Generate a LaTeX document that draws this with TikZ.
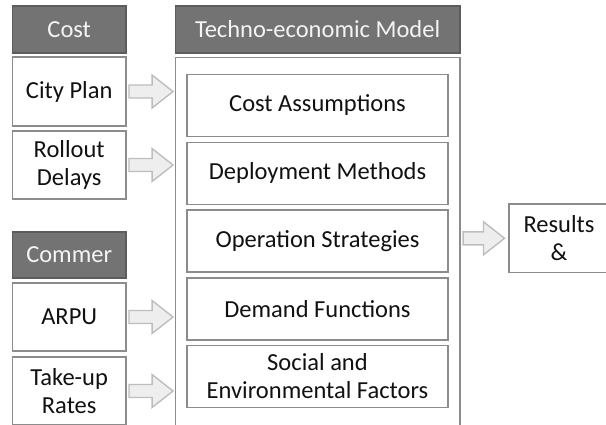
\documentclass[tikz,border=0pt]{standalone}
\usepackage{fontspec}
\setmainfont{Carlito}
\usetikzlibrary{calc}

\definecolor{boxline}{HTML}{8C8C8C}
\definecolor{headfill}{HTML}{737373}
\definecolor{headline}{HTML}{5C5C5C}
\definecolor{headtext}{HTML}{F4F4F4}
\definecolor{arrfill}{HTML}{EEEEEE}
\definecolor{arrline}{HTML}{BDBDBD}
\definecolor{ink}{HTML}{111111}

% hollow block arrow from point #1 to point #2 (same height)
\newcommand{\blockarrow}[2]{%
  \draw[blockarr] let \p1=(#1), \p2=(#2) in
    (\x1,{\y1+6.5bp}) -- ({\x2-21bp},{\y1+6.5bp}) -- ({\x2-21bp},{\y1+16.5bp})
    -- (\x2,\y1) -- ({\x2-21bp},{\y1-16.5bp}) -- ({\x2-21bp},{\y1-6.5bp})
    -- (\x1,{\y1-6.5bp}) -- cycle;}

\begin{document}
\begin{tikzpicture}[x=1bp,y=-1bp,
  every node/.style={inner sep=0pt,outer sep=0pt,align=center,
    font=\fontsize{24.5bp}{28bp}\selectfont},
  headbox/.style={draw=headline,fill=headfill,line width=1.6bp,text=headtext,
    minimum height=47bp},
  itembox/.style={draw=boxline,line width=1.6bp,fill=white,text=ink,
    minimum width=113.5bp,minimum height=68.5bp},
  modelitem/.style={draw=boxline,line width=1.6bp,fill=white,text=ink,
    minimum width=260.5bp,minimum height=62bp},
  blockarr/.style={draw=arrline,fill=arrfill,line width=1.4bp,line join=miter}]
  \useasboundingbox (0,0) rectangle (606,424);
  \begin{scope}
  \clip (0,0) rectangle (606,424);

  % cost inputs
  \node[headbox,minimum width=113.5bp] (costhead) at (69.2,29.2) {Cost};
  \node[itembox] (city) at (69.2,91.5) {City Plan};
  \node[itembox] (rollout) at (69.2,165) {Rollout\\Delays};

  % commercial inputs
  \node[headbox,minimum width=113.5bp,minimum height=45.5bp] (commhead) at (69.2,255) {Commer};
  \node[itembox] (arpu) at (69.2,317) {ARPU};
  \node[itembox] (takeup) at (69.2,391) {Take-up\\Rates};

  % techno-economic model
  \node[headbox,minimum width=284.5bp] (modelhead) at (317.6,29.2) {Techno-economic Model};
  \node[draw=boxline,line width=1.6bp,minimum width=284.5bp,minimum height=383bp] (model) at (317.8,248.8) {};
  \node[modelitem] (costass) at (317.5,105.3) {Cost Assumptions};
  \node[modelitem] (deploy) at (317.5,173.3) {Deployment Methods};
  \node[modelitem] (oper) at (317.5,240.8) {Operation Strategies};
  \node[modelitem] (demand) at (317.5,308.8) {Demand Functions};
  \node[modelitem] (social) at (317.5,376.5) {Social and\\Environmental Factors};

  % output
  \node[itembox,minimum width=100bp] (results) at (559,238.3) {Results\\\&};

  % flows
  \blockarrow{$(city.east)+(3,0)$}{$(model.west |- city.east)+(-2.5,0)$}
  \blockarrow{$(rollout.east)+(3,0)$}{$(model.west |- rollout.east)+(-2.5,0)$}
  \blockarrow{$(arpu.east)+(3,0)$}{$(model.west |- arpu.east)+(-2.5,0)$}
  \blockarrow{$(takeup.east)+(3,0)$}{$(model.west |- takeup.east)+(-2.5,0)$}
  \blockarrow{$(model.east |- results.west)+(3,0)$}{$(results.west)+(-4.5,0)$}
  \end{scope}
\end{tikzpicture}
\end{document}
